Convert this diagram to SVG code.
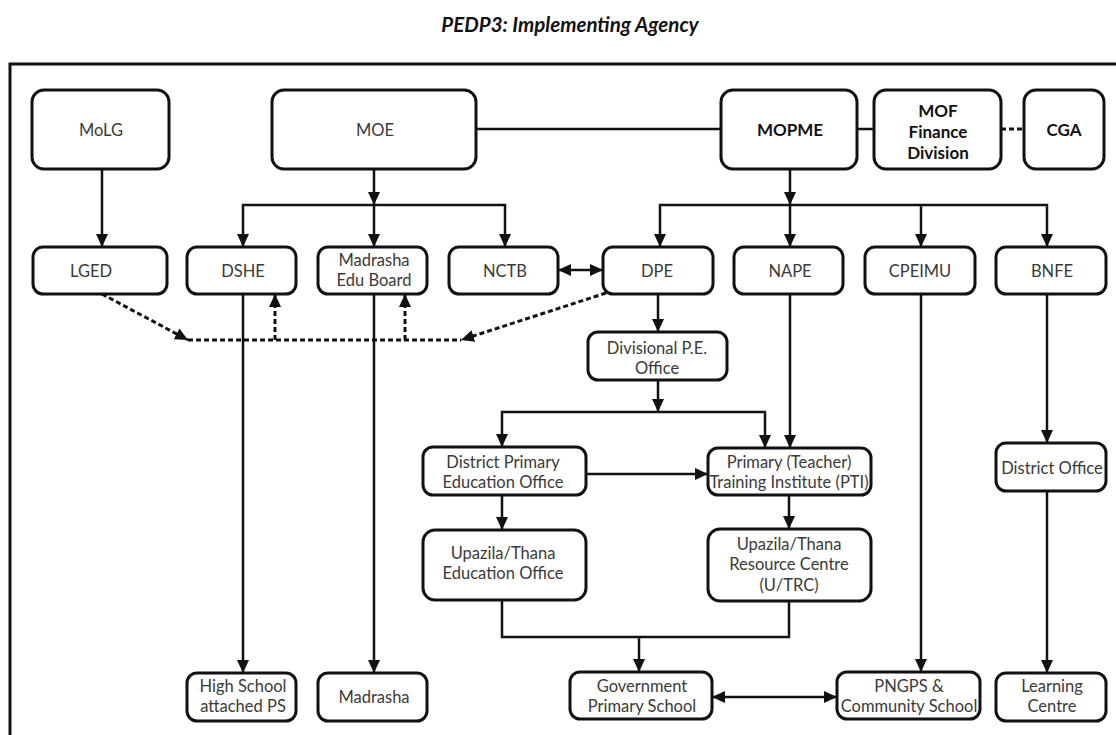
<svg xmlns="http://www.w3.org/2000/svg" width="1116" height="735" viewBox="0 0 1116 735">
<style>
  .box{fill:#fff;stroke:#111;stroke-width:3}
  .t{font-family:Lato,"Liberation Sans",sans-serif;font-size:16.5px;fill:#3a3a3a;text-anchor:middle}
  .b{font-family:Lato,"Liberation Sans",sans-serif;font-size:17px;font-weight:bold;fill:#111;text-anchor:middle}
  .title{font-family:Lato,"Liberation Sans",sans-serif;font-size:20.5px;font-weight:bold;font-style:italic;fill:#111;text-anchor:middle}
  .c{fill:none;stroke:#111;stroke-width:2.5}
  .d{fill:none;stroke:#111;stroke-width:3;stroke-dasharray:5 3}
</style>
<defs>
  <marker id="a" markerUnits="userSpaceOnUse" markerWidth="14" markerHeight="14" viewBox="0 0 14 14" refX="13" refY="7" orient="auto-start-reverse">
    <path d="M0,1 L13,7 L0,13 Z" fill="#111"/>
  </marker>
</defs>
<rect width="1116" height="735" fill="#fff"/>
<text class="title" x="570" y="32">PEDP3: Implementing Agency</text>
<rect x="10" y="64" width="1130" height="700" fill="none" stroke="#111" stroke-width="3"/>

<g id="connectors">
  <path class="c" d="M476,129 H721"/>
  <path class="c" d="M857,129 H874"/>
  <path class="d" d="M1001,129 H1024"/>
  <path class="c" d="M102,169 V247" marker-end="url(#a)"/>
  <path class="c" d="M374,169 V205" marker-end="url(#a)"/>
  <path class="c" d="M243,247 V205 H505 V247" marker-start="url(#a)" marker-end="url(#a)"/>
  <path class="c" d="M374,205 V247" marker-end="url(#a)"/>
  <path class="c" d="M790,169 V205" marker-end="url(#a)"/>
  <path class="c" d="M660,247 V205 H1047 V247" marker-start="url(#a)" marker-end="url(#a)"/>
  <path class="c" d="M790,205 V247" marker-end="url(#a)"/>
  <path class="c" d="M921,205 V247" marker-end="url(#a)"/>
  <path class="c" d="M558,270 H603" marker-start="url(#a)" marker-end="url(#a)"/>
  <path class="d" d="M102,294 L188,340" marker-end="url(#a)"/>
  <path class="d" d="M188,340 H461"/>
  <path class="d" d="M606,293 L461,340" marker-end="url(#a)"/>
  <path class="d" d="M275,340 V294" marker-end="url(#a)"/>
  <path class="d" d="M405,340 V294" marker-end="url(#a)"/>
  <path class="c" d="M243,294 V673" marker-end="url(#a)"/>
  <path class="c" d="M374,294 V673" marker-end="url(#a)"/>
  <path class="c" d="M658,294 V332" marker-end="url(#a)"/>
  <path class="c" d="M658,380 V412" marker-end="url(#a)"/>
  <path class="c" d="M502,447 V412 H765 V448" marker-start="url(#a)" marker-end="url(#a)"/>
  <path class="c" d="M790,294 V448" marker-end="url(#a)"/>
  <path class="c" d="M586,474 H708" marker-end="url(#a)"/>
  <path class="c" d="M502,495 V530" marker-end="url(#a)"/>
  <path class="c" d="M789,495 V529" marker-end="url(#a)"/>
  <path class="c" d="M502,600 V637 H789 V601"/>
  <path class="c" d="M639,637 V672" marker-end="url(#a)"/>
  <path class="c" d="M712,697 H837" marker-start="url(#a)" marker-end="url(#a)"/>
  <path class="c" d="M921,294 V672" marker-end="url(#a)"/>
  <path class="c" d="M1047,294 V443" marker-end="url(#a)"/>
  <path class="c" d="M1047,491 V673" marker-end="url(#a)"/>
</g>

<g id="MoLG"><rect class="box" x="32" y="90" width="137" height="79" rx="12"/><text class="t" x="101" y="136">MoLG</text></g>
<g id="MOE"><rect class="box" x="272" y="90" width="204" height="79" rx="12"/><text class="t" x="375" y="136">MOE</text></g>
<g id="MOPME"><rect class="box" x="721" y="90" width="136" height="79" rx="12"/><text class="b" x="790" y="136">MOPME</text></g>
<g id="MOF"><rect class="box" x="874" y="90" width="127" height="79" rx="12"/><text class="b" x="938" y="117">MOF</text><text class="b" x="938" y="138">Finance</text><text class="b" x="938" y="159">Division</text></g>
<g id="CGA"><rect class="box" x="1024" y="90" width="80" height="79" rx="12"/><text class="b" x="1064" y="136">CGA</text></g>

<g id="LGED"><rect class="box" x="33" y="247" width="134" height="47" rx="10"/><text class="t" x="91" y="277">LGED</text></g>
<g id="DSHE"><rect class="box" x="187" y="247" width="109" height="47" rx="10"/><text class="t" x="243" y="277">DSHE</text></g>
<g id="MadrashaEduBoard"><rect class="box" x="318" y="247" width="109" height="47" rx="10"/><text class="t" x="374" y="266">Madrasha</text><text class="t" x="374" y="286">Edu Board</text></g>
<g id="NCTB"><rect class="box" x="449" y="247" width="109" height="47" rx="10"/><text class="t" x="505" y="277">NCTB</text></g>
<g id="DPE"><rect class="box" x="603" y="247" width="110" height="47" rx="10"/><text class="t" x="657" y="277">DPE</text></g>
<g id="NAPE"><rect class="box" x="734" y="247" width="109" height="47" rx="10"/><text class="t" x="790" y="277">NAPE</text></g>
<g id="CPEIMU"><rect class="box" x="865" y="247" width="110" height="47" rx="10"/><text class="t" x="920" y="277">CPEIMU</text></g>
<g id="BNFE"><rect class="box" x="996" y="247" width="110" height="47" rx="10"/><text class="t" x="1052" y="277">BNFE</text></g>

<g id="DivisionalPE"><rect class="box" x="588" y="332" width="139" height="48" rx="10"/><text class="t" x="657" y="354">Divisional P.E.</text><text class="t" x="657" y="374">Office</text></g>
<g id="DPEO"><rect class="box" x="423" y="447" width="163" height="48" rx="10"/><text class="t" x="503" y="468">District Primary</text><text class="t" x="503" y="488">Education Office</text></g>
<g id="PTI"><rect class="box" x="708" y="448" width="163" height="47" rx="10"/><text class="t" x="789" y="468">Primary (Teacher)</text><text class="t" x="789" y="488">Training Institute (PTI)</text></g>
<g id="DistrictOffice"><rect class="box" x="996" y="443" width="110" height="48" rx="10"/><text class="t" x="1052" y="474">District Office</text></g>
<g id="UTEO"><rect class="box" x="423" y="530" width="163" height="70" rx="12"/><text class="t" x="503" y="559">Upazila/Thana</text><text class="t" x="503" y="579">Education Office</text></g>
<g id="UTRC"><rect class="box" x="708" y="529" width="163" height="72" rx="12"/><text class="t" x="789" y="550">Upazila/Thana</text><text class="t" x="789" y="570">Resource Centre</text><text class="t" x="789" y="591">(U/TRC)</text></g>

<g id="HighSchool"><rect class="box" x="187" y="673" width="109" height="48" rx="10"/><text class="t" x="243" y="692">High School</text><text class="t" x="243" y="712">attached PS</text></g>
<g id="Madrasha"><rect class="box" x="318" y="673" width="109" height="48" rx="10"/><text class="t" x="374" y="703">Madrasha</text></g>
<g id="GovtPS"><rect class="box" x="570" y="672" width="142" height="47" rx="10"/><text class="t" x="642" y="692">Government</text><text class="t" x="642" y="712">Primary School</text></g>
<g id="PNGPS"><rect class="box" x="837" y="672" width="143" height="47" rx="10"/><text class="t" x="909" y="692">PNGPS &amp;</text><text class="t" x="909" y="712">Community School</text></g>
<g id="LearningCentre"><rect class="box" x="996" y="673" width="110" height="48" rx="10"/><text class="t" x="1052" y="692">Learning</text><text class="t" x="1052" y="712">Centre</text></g>
</svg>
